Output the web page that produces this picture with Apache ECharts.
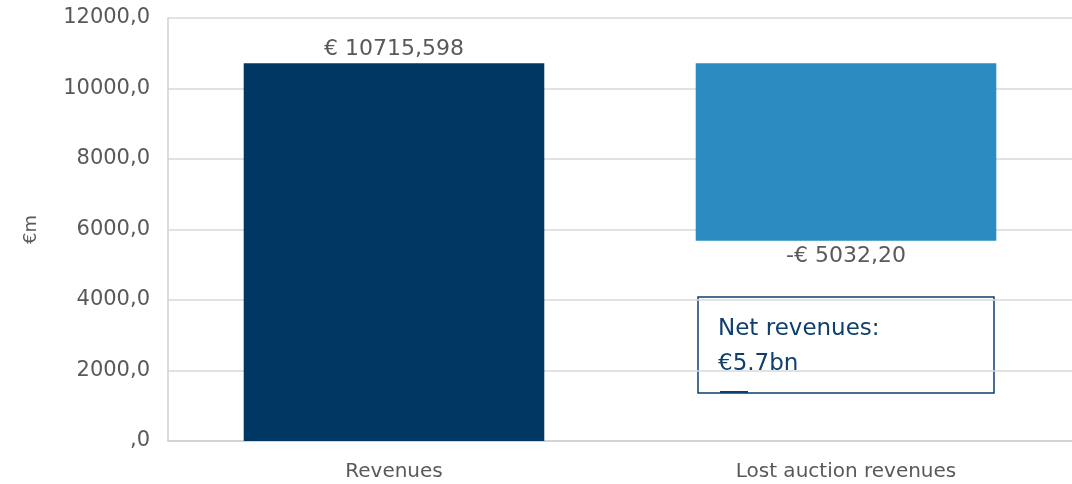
<!DOCTYPE html>
<html>
<head>
<meta charset="utf-8">
<script src="https://cdn.jsdelivr.net/npm/echarts@6/dist/echarts.min.js"></script>
<style>
html, body { margin: 0; padding: 0; background: #fff; }
#chartmain { width: 1072px; height: 484px; }
</style>
</head>
<body>
<div id="chartmain"></div>
<script>
var categories = ['Revenues', 'Lost auction revenues'];
var revenues = 10715.598;
var lostRevenues = 5032.20;
// waterfall: invisible base + visible step
var baseValues = [0, revenues - lostRevenues];
var stepValues = [revenues, lostRevenues];
var stepLabels = ['€ 10715,598', '-€ 5032,20'];
var barColors = ['#003763', '#2a8cc1'];
var yTicks = [0, 2000, 4000, 6000, 8000, 10000, 12000];

window.onload = function(){
    var font = '"DejaVu Sans", Verdana, sans-serif';
    var option = {
        animation: false,
        textStyle: { fontFamily: font },
        grid: { left: 168, right: 0, top: 18, bottom: 43, containLabel: false },
        xAxis: {
            type: 'category',
            data: categories,
            axisLine: { lineStyle: { color: '#d0d0d0', width: 1.5 } },
            axisTick: { show: false },
            axisLabel: { color: '#595959', fontSize: 20, margin: 21, fontFamily: font }
        },
        yAxis: {
            type: 'value',
            min: yTicks[0],
            max: yTicks[yTicks.length - 1],
            interval: 2000,
            name: '€m',
            nameLocation: 'middle',
            nameRotate: 90,
            nameGap: 128,
            nameTextStyle: { color: '#595959', fontSize: 18, fontFamily: font },
            axisLine: { show: true, lineStyle: { color: '#d0d0d0', width: 1.5 } },
            axisTick: { show: false },
            splitLine: { lineStyle: { color: '#d9d9d9', width: 1.5 } },
            axisLabel: {
                color: '#595959', fontSize: 21, margin: 18, fontFamily: font,
                formatter: function (v) {
                    return v === 0 ? ',0' : v.toFixed(1).replace('.', ',');
                }
            }
        },
        series: [
            {
                type: 'bar',
                stack: 'wf',
                barWidth: '66.5%',
                itemStyle: { color: 'transparent' },
                silent: true,
                data: baseValues
            },
            {
                type: 'bar',
                stack: 'wf',
                barWidth: '66.5%',
                data: stepValues.map(function (v, i) {
                    return {
                        value: v,
                        itemStyle: { color: barColors[i] },
                        label: {
                            show: true,
                            position: i === 0 ? 'top' : 'bottom',
                            distance: i === 0 ? 3 : 5,
                            formatter: stepLabels[i],
                            color: '#595959',
                            fontSize: 22,
                            fontFamily: font
                        }
                    };
                })
            }
        ],
        graphic: [
            {
                type: 'rect',
                shape: { x: 698, y: 297, width: 296, height: 96 },
                style: { fill: '#fff', stroke: '#0e3f6e', lineWidth: 1.5 }
            },
            {
                type: 'text',
                x: 718, y: 312,
                style: {
                    text: 'Net revenues:\n€5.7bn',
                    fill: '#0e3f6e',
                    font: '23px ' + font,
                    lineHeight: 35
                }
            },
            {
                type: 'rect',
                shape: { x: 720, y: 391, width: 28, height: 2 },
                style: { fill: '#0e3f6e' }
            }
        ]
    };

    var myChart = echarts.init(document.getElementById('chartmain'));
    myChart.setOption(option);
};
</script>
</body>
</html>
